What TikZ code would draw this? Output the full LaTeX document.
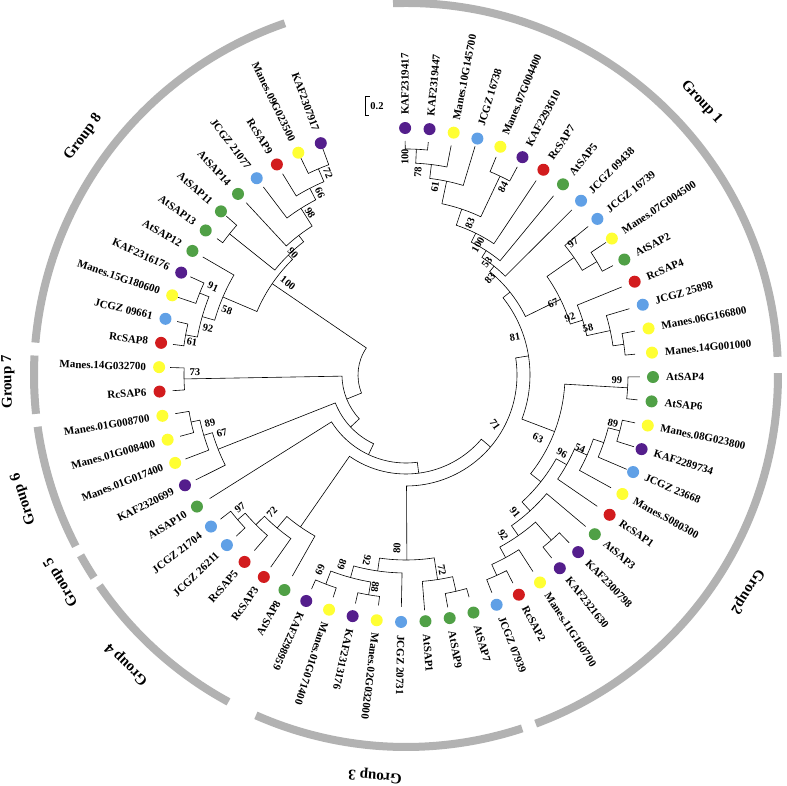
\documentclass[tikz,border=0pt]{standalone}
\usepackage{fontspec}
\setmainfont{Liberation Serif}
\definecolor{ringgray}{RGB}{178,178,178}
\definecolor{cpur}{RGB}{84,30,140}
\definecolor{cyel}{RGB}{255,255,51}
\definecolor{cblu}{RGB}{96,160,230}
\definecolor{cred}{RGB}{210,28,30}
\definecolor{cgrn}{RGB}{80,160,70}
\tikzset{
 branch/.style={draw=black, line width=0.6pt},
 leafdot/.style={circle, inner sep=0pt, minimum size=12pt, draw=none},
 leaflab/.style={font=\bfseries\fontsize{11}{11}\selectfont, inner sep=0pt},
 bs/.style={font=\bfseries\fontsize{10.5}{10.5}\selectfont, inner sep=0pt},
 grouplab/.style={font=\bfseries\fontsize{15}{15}\selectfont, inner sep=0pt},
 ring/.style={draw=ringgray, line width=8pt},
}
\newcommand\mkleaf[2]{%
 \expandafter\pgfmathsetmacro\csname angL#1\endcsname{90.2-5.667*(#1-1)}%
 \expandafter\def\csname radL#1\endcsname{#2}}
\newcommand\showleaf[3]{%
 \edef\tmpa{\csname angL#1\endcsname}%
 \node[leafdot, fill=#2] (dot#1) at (\tmpa:247) {};
 \ifnum#1<38\relax
  \node[leaflab, rotate=\tmpa, anchor=west] (lab#1) at (\tmpa:260) {#3};
 \else
  \pgfmathsetmacro\tmpb{\tmpa+180}%
  \node[leaflab, rotate=\tmpb, anchor=east] (lab#1) at (\tmpa:260) {#3};
 \fi}
\newcommand\clade[4]{%
 \edef\ca{\csname ang#3\endcsname}\edef\cb{\csname ang#4\endcsname}%
 \edef\ra{\csname rad#3\endcsname}\edef\rb{\csname rad#4\endcsname}%
 \expandafter\pgfmathsetmacro\csname ang#1\endcsname{(\ca+\cb)/2}%
 \expandafter\def\csname rad#1\endcsname{#2}%
 \edef\cc{\csname ang#1\endcsname}%
 \draw[branch] (\ca:\ra) -- (\ca:#2) arc[start angle=\ca, end angle=\cb, radius=#2] -- (\cb:\rb);
 \coordinate (#1) at (\cc:#2);}
\newcommand\bsl[5]{\node[bs, rotate=#4] (#1) at ({#2-406},{375-#3}) {#5};}
\newcommand\ringarc[2]{\draw[ring] (#1:372) arc[start angle=#1, end angle=#2, radius=372];}
\newcommand\grp[5]{\node[grouplab, rotate=#3] (#1) at (#2:#4) {#5};}
\begin{document}
\begin{tikzpicture}[x=1pt,y=1pt]
\useasboundingbox (-406,-411) rectangle (381,375);
\fill[white] (-406,-411) rectangle (381,375);
% ---- leaf angles and tip radii
\mkleaf{1}{234}\mkleaf{2}{234}\mkleaf{3}{234}\mkleaf{4}{239}\mkleaf{5}{236}\mkleaf{6}{236}
\mkleaf{7}{234}\mkleaf{8}{232}\mkleaf{9}{234}\mkleaf{10}{235}\mkleaf{11}{240}\mkleaf{12}{234}
\mkleaf{13}{233}\mkleaf{14}{233}\mkleaf{15}{233}\mkleaf{16}{230}\mkleaf{17}{234}\mkleaf{18}{233}
\mkleaf{19}{234}\mkleaf{20}{239}\mkleaf{21}{240}\mkleaf{22}{234}\mkleaf{23}{232}\mkleaf{24}{235}
\mkleaf{25}{234}\mkleaf{26}{234}\mkleaf{27}{234}\mkleaf{28}{234}\mkleaf{29}{234}\mkleaf{30}{231}
\mkleaf{31}{236}\mkleaf{32}{236}\mkleaf{33}{232}\mkleaf{34}{232}\mkleaf{35}{234}\mkleaf{36}{234}
\mkleaf{37}{234}\mkleaf{38}{231}\mkleaf{39}{235}\mkleaf{40}{232}\mkleaf{41}{234}\mkleaf{42}{235}
\mkleaf{43}{232}\mkleaf{44}{235}\mkleaf{45}{236}\mkleaf{46}{234}\mkleaf{47}{234}\mkleaf{48}{234}
\mkleaf{49}{236}\mkleaf{50}{235}\mkleaf{51}{235}\mkleaf{52}{243}\mkleaf{53}{237}\mkleaf{54}{235}
\mkleaf{55}{233}\mkleaf{56}{240}\mkleaf{57}{235}\mkleaf{58}{236}\mkleaf{59}{236}\mkleaf{60}{243}
\mkleaf{61}{243}
% ---- Group 1
\clade{A}{226}{L1}{L2}
\clade{B}{212}{A}{L3}
\clade{C}{198}{B}{L4}
\clade{D}{220}{L5}{L6}
\clade{E}{175}{C}{D}
\clade{F}{158}{E}{L7}
\clade{G}{148}{F}{L8}
\clade{H}{140}{G}{L9}
\clade{I}{222}{L11}{L12}
\clade{J}{205}{L10}{I}
\clade{K}{220}{L15}{L16}
\clade{Lc}{209}{L14}{K}
\clade{M}{185}{L13}{Lc}
\clade{N}{172}{J}{M}
\clade{GA}{133}{H}{N}
% ---- Group 2
\clade{P99}{222}{L17}{L18}
\clade{P89}{221}{L19}{L20}
\clade{P209}{209}{P89}{L21}
\clade{P54}{198}{P209}{L22}
\clade{P96}{184}{P54}{L23}
\clade{KK}{220}{L25}{L26}
\clade{RJ}{220}{L28}{L29}
\clade{V}{208}{L27}{RJ}
\clade{W}{196}{KK}{V}
\clade{Z}{184}{L24}{W}
\clade{Y}{172}{P96}{Z}
\clade{X}{159}{P99}{Y}
\clade{NE}{124}{GA}{X}
% ---- Group 3
\clade{Q69}{224}{L36}{L37}
\clade{Q88}{223}{L34}{L35}
\clade{Q89}{210}{Q88}{Q69}
\clade{Q92}{198}{L33}{Q89}
\clade{Q97}{222}{L30}{L31}
\clade{Q72}{207}{Q97}{L32}
\clade{Q80}{185}{Q72}{Q92}
\clade{NS}{111}{NE}{Q80}
% ---- Groups 4 and 5
\clade{S97}{222}{L41}{L42}
\clade{S40}{212}{L40}{S97}
\clade{S72}{200}{L39}{S40}
\clade{S0}{185}{L38}{S72}
\clade{NN}{99}{NS}{S0}
\clade{NT}{88}{NN}{L43}
% ---- Group 6
\clade{T2}{220}{L46}{L47}
\clade{T89}{211}{L45}{T2}
\clade{T67}{202}{L44}{T89}
\clade{NU}{76}{NT}{T67}
% ---- Group 7
\clade{U73}{222}{L48}{L49}
\clade{NV}{64}{NU}{U73}
% ---- Group 8
\clade{V61}{224}{L50}{L51}
\clade{V91}{222}{L52}{L53}
\clade{V92}{212}{V61}{V91}
\clade{V58}{199}{V92}{L54}
\clade{V1113}{226}{L55}{L56}
\clade{V72}{224}{L60}{L61}
\clade{V66}{210}{L59}{V72}
\clade{V98}{197}{L58}{V66}
\clade{V90}{176}{L57}{V98}
\clade{VX}{168}{V1113}{V90}
\clade{V100}{162}{V58}{VX}
\clade{ROOT}{48}{NV}{V100}
% ---- leaves
\showleaf{1}{cpur}{KAF2319417}
\showleaf{2}{cpur}{KAF2319447}
\showleaf{3}{cyel}{Manes.10G145700}
\showleaf{4}{cblu}{JCGZ 16738}
\showleaf{5}{cyel}{Manes.07G004400}
\showleaf{6}{cpur}{KAF2293610}
\showleaf{7}{cred}{RcSAP7}
\showleaf{8}{cgrn}{AtSAP5}
\showleaf{9}{cblu}{JCGZ 09438}
\showleaf{10}{cblu}{JCGZ 16739}
\showleaf{11}{cyel}{Manes.07G004500}
\showleaf{12}{cgrn}{AtSAP2}
\showleaf{13}{cred}{RcSAP4}
\showleaf{14}{cblu}{JCGZ 25898}
\showleaf{15}{cyel}{Manes.06G166800}
\showleaf{16}{cyel}{Manes.14G001000}
\showleaf{17}{cgrn}{AtSAP4}
\showleaf{18}{cgrn}{AtSAP6}
\showleaf{19}{cyel}{Manes.08G023800}
\showleaf{20}{cpur}{KAF2289734}
\showleaf{21}{cblu}{JCGZ 23668}
\showleaf{22}{cyel}{Manes.S080300}
\showleaf{23}{cred}{RcSAP1}
\showleaf{24}{cgrn}{AtSAP3}
\showleaf{25}{cpur}{KAF2300798}
\showleaf{26}{cpur}{KAF2321630}
\showleaf{27}{cyel}{Manes.11G160700}
\showleaf{28}{cred}{RcSAP2}
\showleaf{29}{cblu}{JCGZ 07939}
\showleaf{30}{cgrn}{AtSAP7}
\showleaf{31}{cgrn}{AtSAP9}
\showleaf{32}{cgrn}{AtSAP1}
\showleaf{33}{cblu}{JCGZ 20731}
\showleaf{34}{cyel}{Manes.02G032000}
\showleaf{35}{cpur}{KAF2313176}
\showleaf{36}{cyel}{Manes.01G071400}
\showleaf{37}{cpur}{KAF2298959}
\showleaf{38}{cgrn}{AtSAP8}
\showleaf{39}{cred}{RcSAP3}
\showleaf{40}{cred}{RcSAP5}
\showleaf{41}{cblu}{JCGZ 26211}
\showleaf{42}{cblu}{JCGZ 21704}
\showleaf{43}{cgrn}{AtSAP10}
\showleaf{44}{cpur}{KAF2320699}
\showleaf{45}{cyel}{Manes.01G017400}
\showleaf{46}{cyel}{Manes.01G008400}
\showleaf{47}{cyel}{Manes.01G008700}
\showleaf{48}{cred}{RcSAP6}
\showleaf{49}{cyel}{Manes.14G032700}
\showleaf{50}{cred}{RcSAP8}
\showleaf{51}{cblu}{JCGZ 09661}
\showleaf{52}{cyel}{Manes.15G180600}
\showleaf{53}{cpur}{KAF2316176}
\showleaf{54}{cgrn}{AtSAP12}
\showleaf{55}{cgrn}{AtSAP13}
\showleaf{56}{cgrn}{AtSAP11}
\showleaf{57}{cgrn}{AtSAP14}
\showleaf{58}{cblu}{JCGZ 21077}
\showleaf{59}{cred}{RcSAP9}
\showleaf{60}{cyel}{Manes.09G023500}
\showleaf{61}{cpur}{KAF2307917}
% ---- bootstrap values
\bsl{bA}{405}{157}{90}{100}
\bsl{bB}{418}{172}{87}{78}
\bsl{bC}{435}{187}{81}{61}
\bsl{bD}{503}{187}{63}{84}
\bsl{bE}{470}{223}{67}{83}
\bsl{bF}{478}{245}{61}{100}
\bsl{bG}{487}{262}{54}{53}
\bsl{bH}{490}{278}{49}{83}
\bsl{bI}{573}{243}{38}{97}
\bsl{bN}{553}{303}{26}{67}
\bsl{bM}{570}{317}{20}{92}
\bsl{bL}{588}{328}{14}{58}
\bsl{bNE}{515}{337}{10}{81}
\bsl{bP99}{617}{380}{-1}{99}
\bsl{bP89}{613}{423}{-13}{89}
\bsl{bP54}{580}{448}{-23}{54}
\bsl{bP96}{562}{453}{-27}{96}
\bsl{bX}{538}{438}{-25}{63}
\bsl{bZ}{515}{512}{-51}{91}
\bsl{bW}{503}{535}{-59}{92}
\bsl{bNS}{495}{425}{-55}{71}
\bsl{bQ72}{442}{570}{-80}{72}
\bsl{bQ80}{397}{548}{87}{80}
\bsl{bQ92}{367}{560}{-102}{92}
\bsl{bQ89}{342}{565}{-109}{89}
\bsl{bQ69}{320}{570}{-114}{69}
\bsl{bQ88}{375}{587}{-98}{88}
\bsl{bS97}{240}{508}{39}{97}
\bsl{bS72}{272}{512}{46}{72}
\bsl{bT89}{210}{423}{14}{89}
\bsl{bT67}{222}{433}{17}{67}
\bsl{bU73}{195}{372}{-1}{73}
\bsl{bV72}{328}{173}{-69}{72}
\bsl{bV66}{320}{193}{-65}{66}
\bsl{bV98}{310}{213}{-59}{98}
\bsl{bV90}{293}{253}{-47}{90}
\bsl{bV100}{288}{283}{-38}{100}
\bsl{bV91}{213}{287}{-24}{91}
\bsl{bV58}{227}{310}{-20}{58}
\bsl{bV92}{208}{328}{-13}{92}
\bsl{bV61}{192}{342}{-9}{61}
% ---- scale bar
\coordinate (sbt) at (-41,279);
\coordinate (sbb) at (-41,260);
\draw[line width=0.6pt] ([xshift=5pt]sbt) -- (sbt) -- (sbb) -- ([xshift=4pt]sbb);
\node[bs] (sbl) at (-29,269) {0.2};
% ---- group ring
\ringarc{92}{2.8}
\ringarc{0.3}{-69.6}
\ringarc{-71.8}{-113.8}
\ringarc{-118.5}{-145.5}
\ringarc{-147}{-151}
\ringarc{-152.6}{-172}
\ringarc{-174}{-183}
\ringarc{-185}{-251}
% ---- group labels
\grp{g1}{42.7}{-47.3}{402}{Group 1}
\grp{g2}{-32.4}{-122.4}{404}{Group2}
\grp{g3}{265.6}{175.6}{402}{Group 3}
\grp{g4}{226}{136}{402}{Group 4}
\grp{g5}{211}{121}{402}{Group 5}
\grp{g6}{198}{108}{402}{Group 6}
\grp{g7}{181}{91}{398}{Group 7}
\grp{g8}{143.6}{53.6}{401}{Group 8}
\end{tikzpicture}
\end{document}
